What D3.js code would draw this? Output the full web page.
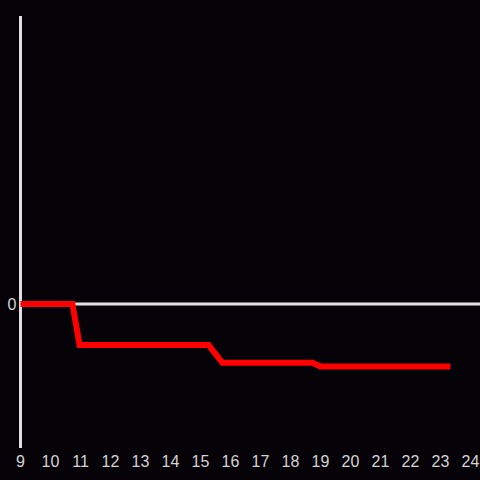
<!DOCTYPE html>
<html><head><meta charset="utf-8">
<script src="https://cdn.jsdelivr.net/npm/d3@7"></script>
<style>
html,body{margin:0;padding:0;background:#050308;}
svg{display:block;}
</style></head>
<body>
<script>
const xValues = [9, 10.73, 10.97, 15.27, 15.73, 18.73, 19.0, 23.33];
const yValues = [0, 0, -0.285, -0.285, -0.408, -0.408, -0.434, -0.434];
const xTicks = [9,10,11,12,13,14,15,16,17,18,19,20,21,22,23,24];
const yTicks = [0];

const W = 480, H = 480;
const svg = d3.select("body").append("svg").attr("width", W).attr("height", H)
  .style("background", "#050308");

const x = d3.scaleLinear().domain([9, 24]).range([20.5, 470.5]);
const y = d3.scaleLinear().domain([-1, 2]).range([448, 16]);

svg.append("line").attr("x1", x(9)).attr("x2", x(9)).attr("y1", y(2)).attr("y2", y(-1))
  .attr("stroke", "#e0e0e0").attr("stroke-width", 3);
svg.append("line").attr("x1", x(9)).attr("x2", W).attr("y1", y(0)).attr("y2", y(0))
  .attr("stroke", "#e0e0e0").attr("stroke-width", 3);

svg.append("g").selectAll("text").data(xTicks).join("text")
  .attr("x", d => x(d)).attr("y", 466.5)
  .attr("text-anchor", "middle")
  .attr("fill", "#d4d4d4")
  .attr("font-family", "Liberation Sans, Arial, sans-serif")
  .attr("font-size", 16)
  .text(d => d);

svg.append("g").selectAll("text").data(yTicks).join("text")
  .attr("x", 16.5).attr("y", d => y(d)).attr("dy", "0.36em")
  .attr("text-anchor", "end")
  .attr("fill", "#d4d4d4")
  .attr("font-family", "Liberation Sans, Arial, sans-serif")
  .attr("font-size", 16)
  .text(d => d);

const data = xValues.map((v, i) => [v, yValues[i]]);
svg.append("path").datum(data)
  .attr("fill", "none").attr("stroke", "#ff0000").attr("stroke-width", 6)
  .attr("stroke-linejoin", "miter")
  .attr("d", d3.line().x(d => x(d[0])).y(d => y(d[1])));
</script>
</body></html>
